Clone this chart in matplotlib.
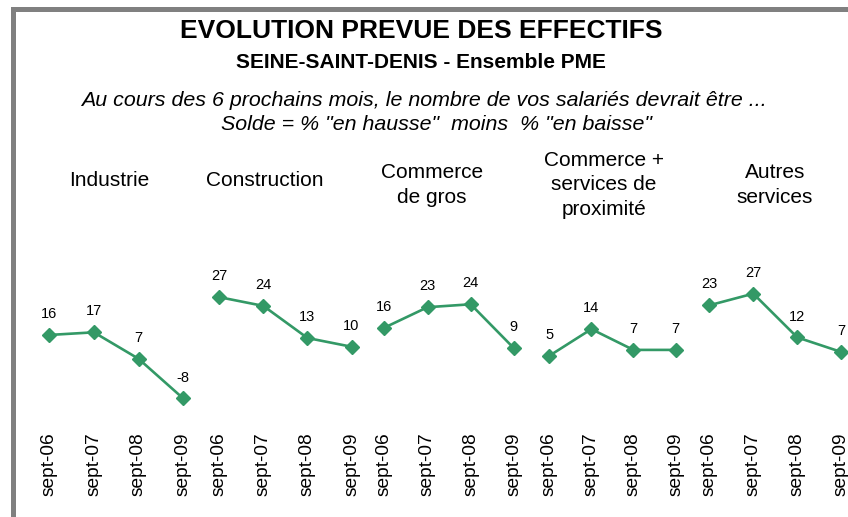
import matplotlib
matplotlib.use("Agg")
import matplotlib.pyplot as plt
from matplotlib.patches import Rectangle

plt.rcParams["font.family"] = ["Liberation Sans", "DejaVu Sans"]

# Solde (% en hausse - % en baisse) par secteur
periods = ["sept-06", "sept-07", "sept-08", "sept-09"]
sectors = ["Industrie", "Construction", "Commerce\nde gros",
           "Commerce +\nservices de\nproximité", "Autres\nservices"]
industrie = [16, 17, 7, -8]
construction = [27, 24, 13, 10]
commerce_gros = [16, 23, 24, 9]
commerce_proximite = [5, 14, 7, 7]
autres_services = [23, 27, 12, 7]
series = [industrie, construction, commerce_gros, commerce_proximite, autres_services]

W, H = 848, 517
GREEN = "#339966"

# one small chart per sector: (left px, width px, ymin, ymax), plus title centre
panels = [
    (27.0, 178.4, -16.2, 40.6),
    (197.2, 176.4, -15.1, 36.3),
    (362.7, 172.8, -15.5, 35.7),
    (528.2, 168.4, -16.6, 33.9),
    (687.3, 176.0, -16.3, 35.1),
]
title_pos = [(109, 180), (265, 180), (432, 185), (604, 185), (775, 185)]
top_px, bottom_px = 270, 420

fig = plt.figure(figsize=(W / 100, H / 100), dpi=100)


def fx(x):
    return x / W


def fy(y):
    return 1 - y / H


fig.text(fx(421), fy(31), "EVOLUTION PREVUE DES EFFECTIFS", ha="center", va="center",
         fontsize=19, fontweight="bold")
fig.text(fx(421), fy(62), "SEINE-SAINT-DENIS - Ensemble PME", ha="center", va="center",
         fontsize=15, fontweight="bold")
fig.text(fx(424), fy(101),
         "Au cours des 6 prochains mois, le nombre de vos salariés devrait être ...",
         ha="center", va="center", fontsize=15.4, style="italic")
fig.text(fx(436), fy(124), 'Solde = % "en hausse"  moins  % "en baisse"',
         ha="center", va="center", fontsize=15.4, style="italic")

for (left, width, ymin, ymax), values, name, (tx, ty) in zip(panels, series, sectors, title_pos):
    ax = fig.add_axes([fx(left), fy(bottom_px), width / W, (bottom_px - top_px) / H])
    ax.patch.set_visible(False)
    x = range(len(values))
    ax.plot(x, values, color=GREEN, lw=1.9, marker="D", ms=7, clip_on=False)
    for xi, v in zip(x, values):
        ax.annotate(str(v), (xi, v), xytext=(0, 15), textcoords="offset points",
                    ha="center", va="center", fontsize=10.5)
    ax.set_xlim(-0.5, 3.5)
    ax.set_ylim(ymin, ymax)
    ax.set_xticks(list(x))
    ax.set_xticklabels(periods, rotation=90, fontsize=13.8)
    ax.tick_params(axis="x", length=0, pad=9)
    ax.set_yticks([])
    for s in ax.spines.values():
        s.set_visible(False)
    fig.text(fx(tx), fy(ty), name, ha="center", va="center", fontsize=15, linespacing=1.38)

# grey frame around the chart area
fig.patches.append(Rectangle((fx(12.5), fy(560)), fx(900), fy(9) - fy(560),
                             transform=fig.transFigure, fill=False,
                             edgecolor="#808080", lw=3.6))

fig.savefig("out.png", dpi=100)
